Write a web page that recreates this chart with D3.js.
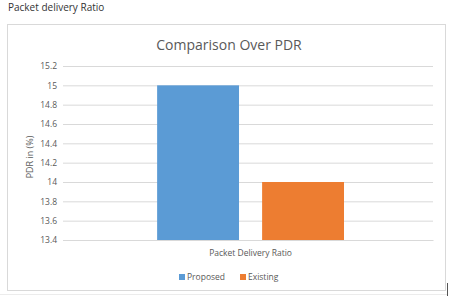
<!DOCTYPE html>
<html>
<head>
<meta charset="utf-8">
<script src="https://cdn.jsdelivr.net/npm/d3@7"></script>
<style>
  body { margin: 0; background: #fff; }
  svg text { font-family: "Open Sans", sans-serif; }
</style>
</head>
<body>
<svg id="chart" width="455" height="299"></svg>
<script>
var categories = ['Packet Delivery Ratio'];
var seriesNames = ['Proposed', 'Existing'];
var proposed = [15];
var existing = [14];
var yTicks = [13.4, 13.6, 13.8, 14, 14.2, 14.4, 14.6, 14.8, 15, 15.2];
var colors = ['#5b9bd5', '#ed7d31'];

var svg = d3.select('#chart');
var textColor = '#595959';

// page caption above the chart
svg.append('text')
	.attr('x', 8)
	.attr('y', 11)
	.attr('font-size', 10)
	.attr('fill', '#333')
	.text('Packet delivery Ratio');

// chart frame
svg.append('rect')
	.attr('x', 7.5).attr('y', 24.5)
	.attr('width', 438).attr('height', 266)
	.attr('fill', '#fff')
	.attr('stroke', '#d9d9d9');
svg.append('line')
	.attr('x1', 0).attr('x2', 447)
	.attr('y1', 294.5).attr('y2', 294.5)
	.attr('stroke', '#ececec');
svg.append('line')
	.attr('x1', 447.5).attr('x2', 447.5)
	.attr('y1', 283).attr('y2', 296)
	.attr('stroke', '#555');

var margin = {left: 63, right: 433, top: 66, bottom: 240};

var y = d3.scaleLinear()
	.domain([13.4, 15.2])
	.range([margin.bottom, margin.top]);

var x0 = d3.scaleBand()
	.domain(categories)
	.range([margin.left, margin.right])
	.paddingInner(0)
	.paddingOuter(0.49)
	.align(0.514);

var x1 = d3.scaleBand()
	.domain(seriesNames)
	.range([0, x0.bandwidth()])
	.paddingInner(0.22);

// grid + y axis labels
var yAxis = svg.append('g')
	.attr('transform', 'translate(' + margin.left + ',0)')
	.call(d3.axisLeft(y).tickValues(yTicks)
		.tickSize(-(margin.right - margin.left))
		.tickPadding(6)
		.tickFormat(d3.format('~g')));
yAxis.select('.domain').remove();
yAxis.selectAll('.tick line').attr('stroke', '#d9d9d9');
yAxis.selectAll('.tick text')
	.attr('fill', textColor)
	.attr('font-size', 8.5);

// bars
var data = categories.map(function(c, i) {
	return {cat: c, values: [proposed[i], existing[i]]};
});

var groups = svg.selectAll('g.cat')
	.data(data)
	.enter().append('g')
	.attr('class', 'cat')
	.attr('transform', function(d) { return 'translate(' + x0(d.cat) + ',0)'; });

groups.selectAll('rect')
	.data(function(d) {
		return d.values.map(function(v, j) { return {name: seriesNames[j], value: v, idx: j}; });
	})
	.enter().append('rect')
	.attr('x', function(d) { return x1(d.name); })
	.attr('y', function(d) { return y(d.value); })
	.attr('width', x1.bandwidth())
	.attr('height', function(d) { return y(13.4) - y(d.value); })
	.attr('fill', function(d) { return colors[d.idx]; });

// x axis category labels
var xAxis = svg.append('g')
	.attr('transform', 'translate(0,' + margin.bottom + ')')
	.call(d3.axisBottom(x0).tickSize(0).tickPadding(10));
xAxis.select('.domain').attr('stroke', '#d9d9d9');
xAxis.selectAll('.tick text')
	.attr('fill', textColor)
	.attr('font-size', 8.5);

// title
svg.append('text')
	.attr('x', 229)
	.attr('y', 50)
	.attr('text-anchor', 'middle')
	.attr('font-size', 14)
	.attr('fill', textColor)
	.text('Comparison Over PDR');

// y axis title
svg.append('text')
	.attr('transform', 'translate(33,157) rotate(-90)')
	.attr('text-anchor', 'middle')
	.attr('font-size', 9)
	.attr('fill', textColor)
	.text('PDR in (%)');

// legend
var legend = svg.append('g').attr('transform', 'translate(179,277)');
var items = legend.selectAll('g')
	.data(seriesNames)
	.enter().append('g')
	.attr('transform', function(d, i) { return 'translate(' + (i * 61) + ',0)'; });
items.append('rect')
	.attr('x', 0).attr('y', -3)
	.attr('width', 6).attr('height', 6)
	.attr('fill', function(d, i) { return colors[i]; });
items.append('text')
	.attr('x', 8)
	.attr('y', 3)
	.attr('font-size', 8.5)
	.attr('fill', textColor)
	.text(function(d) { return d; });
</script>
</body>
</html>
